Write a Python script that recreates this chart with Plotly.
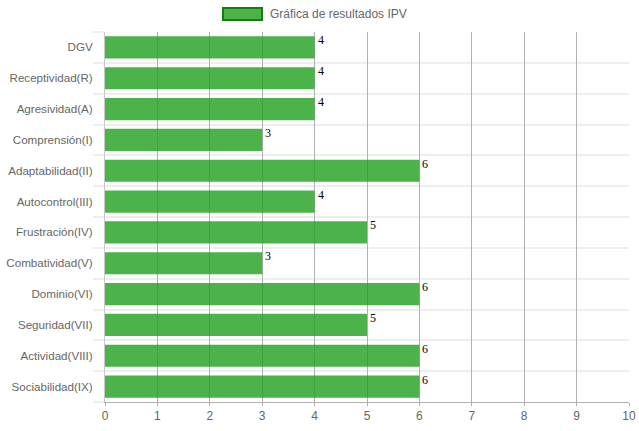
import plotly.graph_objects as go

# Escalas del test IPV y puntuación obtenida en cada una
categorias = [
    "DGV", "Receptividad(R)", "Agresividad(A)", "Comprensión(I)",
    "Adaptabilidad(II)", "Autocontrol(III)", "Frustración(IV)",
    "Combatividad(V)", "Dominio(VI)", "Seguridad(VII)",
    "Actividad(VIII)", "Sociabilidad(IX)",
]
puntuaciones = [4, 4, 4, 3, 6, 4, 5, 3, 6, 5, 6, 6]
serie = "Gráfica de resultados IPV"
ticks_x = list(range(0, 11))

W, H = 639, 431
ML, MR, MT, MB = 105, 10, 32, 29

BAR_FILL = "rgba(31,159,29,0.80)"
BAR_EDGE = "rgb(20,125,20)"
TEXT_GRAY = "#666666"
GRID_V = "#b0b0b0"
GRID_H = "#eeeeee"
SANS = "Liberation Sans, Arial, sans-serif"

n = len(categorias)
posiciones = list(range(n))
limites = [i - 0.5 for i in range(n + 1)]

fig = go.Figure()
fig.add_trace(go.Bar(
    x=puntuaciones, y=posiciones, orientation="h",
    name=serie, marker=dict(color=BAR_FILL, line=dict(width=0)),
    customdata=categorias, hovertemplate="%{customdata}: %{x}<extra></extra>",
    showlegend=False,
))

# Etiqueta con el valor junto al extremo de cada barra
for pos, val in zip(posiciones, puntuaciones):
    fig.add_annotation(
        x=val, y=pos, text=str(val), showarrow=False,
        xanchor="left", yanchor="bottom", xshift=1, yshift=-2,
        font=dict(family="Liberation Serif", size=12, color="#000000"),
    )

# Leyenda dibujada a mano: recuadro ancho con borde y texto a su derecha
pw = W - ML - MR
ph = H - MT - MB
def px_x(p):
    return (p - ML) / pw
def px_y(p):
    return 1 - (p - MT) / ph

fig.add_shape(
    type="rect", xref="paper", yref="paper",
    x0=px_x(223), x1=px_x(262), y0=px_y(20), y1=px_y(8),
    fillcolor="rgb(76,178,74)", line=dict(color=BAR_EDGE, width=2),
)
fig.add_annotation(
    xref="paper", yref="paper", x=px_x(268), y=px_y(14),
    text=serie, showarrow=False, xanchor="left", yanchor="middle",
    font=dict(family=SANS, size=12, color=TEXT_GRAY),
)

fig.update_layout(
    width=W, height=H,
    margin=dict(l=ML, r=MR, t=MT, b=MB, pad=0, autoexpand=False),
    paper_bgcolor="white", plot_bgcolor="white",
    bargap=0.28, showlegend=False,
    font=dict(family=SANS, size=12, color=TEXT_GRAY),
    xaxis=dict(
        range=[0, 10], tickvals=ticks_x, ticktext=[str(t) for t in ticks_x],
        showgrid=True, gridcolor=GRID_V, gridwidth=1,
        zeroline=False, showline=True, linecolor=GRID_V, linewidth=1,
        ticks="outside", ticklen=3, tickcolor=GRID_V,
        tickfont=dict(family=SANS, size=12, color=TEXT_GRAY), fixedrange=True, automargin=False,
    ),
    yaxis=dict(
        range=[n - 0.5, -0.5],
        tickvals=posiciones, ticktext=categorias,
        showgrid=False, ticks="", ticklabelstandoff=9,
        zeroline=False, showline=True, linecolor="#c8c8c8", linewidth=1,
        minor=dict(
            tickvals=limites, showgrid=True, gridcolor=GRID_H, gridwidth=2,
            ticks="outside", ticklen=11, tickcolor=GRID_H, tickwidth=2,
        ),
        tickfont=dict(family=SANS, size=11.6, color=TEXT_GRAY), fixedrange=True, automargin=False,
    ),
)

fig.write_html("out.html")
